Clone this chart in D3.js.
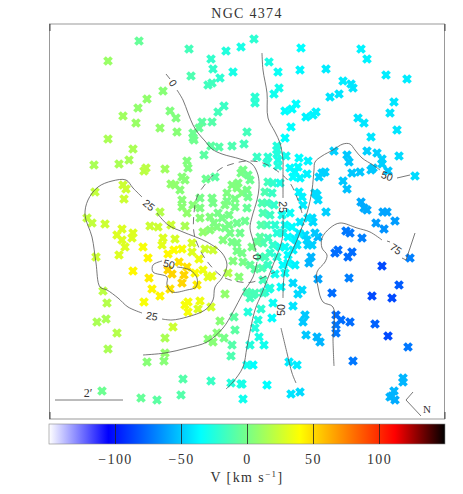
<!DOCTYPE html>
<html>
<head>
<meta charset="utf-8">
<script src="https://cdn.jsdelivr.net/npm/d3@7"></script>
<style>
body { margin: 0; background: #fff; }
svg { display: block; }
text { font-family: "Liberation Serif", serif; fill: #333; }
.clabel { font-family: "Liberation Sans", sans-serif; font-size: 10.5px; fill: #333; }
.axis path { display: none; }
.axis line { stroke: #222; stroke-width: 0.8; }
</style>
</head>
<body>
<svg id="chart" width="463" height="494"></svg>
<script>
// all sky positions are plate offsets from the galaxy centre, 34 units = 1 arcmin
// rows are [x, y, V in km/s]
const north = [[-108,180,-5],[-139,160,10],[-58,172,-15],[-21,170,-25],[-6,174,-28],[-36,162,-20],[-34,152,-20],[-14,149,-28],[-27,143,-22],[-56,145,-12],[-39,136,-16],[-35,138,-16],[-84,130,5],[-100,122,8],[-109,113,8],[-124,105,12],[-111,98,10],[-77,110,3],[-71,103,3],[-87,93,8],[-70,89,5],[-139,82,15],[-114,72,15],[-23,115,-18],[-29,109,-15],[-35,99,-10],[-45,99,-8],[-48,93,-5],[-54,88,-3],[-54,83,-3],[-53,81,-2],[-36,75,-8],[-28,74,-10],[-15,75,-12],[-3,77,-15],[0,89,-15]];
const northEast = [[7,182,-22],[54,173,-35],[22,159,-28],[31,149,-32],[53,151,-37],[79,152,-40],[114,172,-38],[120,162,-38],[139,146,-40],[160,142,-40],[32,133,-30],[27,127,-30],[8,124,-22],[8,118,-22],[49,117,-35],[45,112,-35],[38,110,-35],[59,104,-38],[66,106,-38],[69,109,-38],[96,140,-40],[104,137,-42],[106,133,-42],[92,127,-42],[83,124,-42],[147,119,-42],[143,108,-42],[111,103,-42],[117,98,-42],[150,91,-42],[124,84,-42],[44,94,-35],[38,83,-35],[30,75,-25],[30,71,-25],[30,67,-25],[31,61,-27],[39,65,-30],[52,63,-35],[61,60,-38],[10,64,-18],[21,64,-22],[20,58,-22],[31,55,-25],[87,70,-48],[100,66,-50],[102,59,-50],[120,70,-48],[130,68,-48],[135,62,-48],[135,57,-48],[152,65,-45],[141,50,-50],[124,51,-50],[126,53,-50],[113,49,-50],[105,48,-50],[168,45,-45],[78,49,-48],[75,48,-48],[72,44,-47],[96,40,-50],[100,32,-52]];
const east = [[70,26,-45],[68,28,-45],[71,21,-45],[79,9,-48],[114,19,-58],[117,13,-58],[120,11,-58],[136,9,-60],[140,9,-60],[148,0,-62],[129,-2,-62],[137,-8,-65],[99,-10,-72],[103,-12,-72],[115,-17,-70],[91,-29,-75],[88,-32,-75],[105,-31,-75],[101,-36,-75],[163,-37,-70],[135,-45,-85],[71,-58,-60],[102,-57,-70],[85,-72,-75],[125,-75,-85],[145,-77,-85],[152,-64,-80],[89,-94,-75],[94,-99,-75],[103,-101,-75],[89,-104,-72],[89,-112,-72],[128,-103,-78],[141,-115,-85],[161,-126,-72],[106,-140,-72],[156,-157,-55],[156,-161,-55],[147,-170,-55],[143,-176,-55],[148,-179,-58],[145,-175,-56]];
const coreEast = [[43,53,-35],[51,54,-35],[48,49,-36],[53,43,-37],[60,47,-38],[46,44,-35],[52,29,-38],[55,24,-38],[56,16,-40],[65,3,-45],[66,-1,-45],[61,3,-42],[53,-1,-40],[71,-16,-55],[68,-12,-50],[58,-14,-45],[61,-24,-48],[65,-24,-48],[60,-19,-47],[64,-36,-55],[62,-42,-55],[46,-62,-45],[55,-69,-45],[51,-73,-45],[34,-66,-35],[22,-68,-30],[28,-53,-30],[41,-42,-35],[36,-44,-35],[46,-29,-38],[26,-82,-32],[46,-85,-42],[58,-94,-50],[56,-101,-50],[59,-114,-50],[70,-116,-55],[73,-121,-55],[42,-141,-40],[50,-144,-40],[53,-171,-45],[44,-173,-42],[20,-164,-35],[25,-97,-35],[17,-124,-30],[12,-116,-28],[8,-107,-25],[11,-99,-25],[14,-88,-22],[6,-144,-35],[0,-144,-30],[3,-124,-25],[1,-91,-25],[6,-74,-15],[3,-77,-15],[18,-71,-25],[-5,-163,-28],[-4,-178,-30],[48,-18,-38],[52,-12,-40],[50,-24,-40],[48,-44,-38],[38,-52,-32]];
const coreColumn = [[21,39,-15],[26,38,-20],[33,38,-28],[18,29,-12],[25,28,-18],[20,18,-15],[16,8,-12],[23,6,-17],[20,-4,-15],[35,6,-30],[43,8,-33],[38,-4,-32],[45,-6,-35],[36,-12,-30],[41,-16,-35],[30,-12,-24],[13,-16,-8],[21,-17,-15],[16,-22,-12],[26,-24,-20],[10,-21,-5],[5,-26,0],[33,-26,-27],[23,-32,-20],[13,-36,-10],[41,-34,-35],[3,-44,-5],[15,-47,-12],[21,-44,-18],[16,-59,-15],[23,-67,-25],[16,-72,-18],[8,-72,-14],[27,16,-20],[15,18,-12],[28,-4,-22],[14,-4,-10],[38,-26,-33],[30,-36,-25],[18,-36,-15],[8,-48,-8]];
const coreWest = [[-6,48,0],[-4,51,0],[3,41,-3],[1,46,-2],[-9,38,2],[-15,36,3],[-10,33,3],[-5,28,2],[0,31,0],[1,24,-2],[0,13,-5],[-60,60,3],[-59,53,3],[-43,66,-8],[-65,44,5],[-62,41,5],[-76,37,8],[-72,36,8],[-41,42,-3],[-32,44,-8],[-67,31,5],[-65,21,5],[-65,14,6],[-60,8,8],[-54,16,5],[-47,23,0],[-47,13,2],[-47,3,5],[-35,23,0],[-34,18,0],[-37,4,3],[-29,8,0],[-25,3,0],[-30,-6,3],[-37,-9,5],[-44,-11,8],[-22,-7,0],[-17,-12,0],[-7,-12,-2],[-15,-21,0],[-24,-19,3],[-5,-32,0],[-4,-41,0],[-2,0,-3],[-10,-2,-2],[-12,14,0],[-20,20,0],[-18,6,0],[-10,-22,0],[-20,28,2],[-22,16,2],[-12,22,1],[-33,-2,2],[-18,-4,0],[-10,-30,0],[-14,-40,3]];
const west = [[-153,56,15],[-128,57,15],[-118,61,14],[-103,50,20],[-101,53,20],[-82,52,12],[-124,36,25],[-121,32,25],[-123,22,25],[-152,29,22],[-160,3,22],[-155,-2,22],[-142,-3,25],[-87,9,18],[-97,-5,25],[-89,-6,25],[-76,-4,25],[-62,-5,15],[-125,-8,30],[-130,-14,30],[-114,-12,30],[-115,-17,30],[-125,-19,30],[-122,-26,30],[-128,-34,30],[-104,-26,38],[-84,-17,30],[-85,-24,32],[-72,-18,28],[-55,-22,28],[-55,-31,30],[-151,-36,25],[-99,-37,42],[-79,-33,42],[-73,-29,40],[-65,-28,38],[-42,-28,25],[-34,-29,25],[-48,-38,35],[-68,-41,48],[-60,-46,48],[-79,-49,52],[-75,-53,52],[-114,-50,42],[-63,-54,52],[-65,-62,52],[-98,-57,45],[-44,-49,35],[-52,-52,40],[-35,-55,32],[-39,-56,32],[-19,-52,18],[-8,-56,5],[-50,-64,45],[-77,-68,48],[-95,-68,42],[-87,-75,42],[-144,-70,20],[-22,-73,8],[0,-71,-12]];
const southWest = [[-140,-82,18],[-103,-81,38],[-59,-81,38],[-62,-84,38],[-59,-91,38],[-47,-80,35],[-49,-88,30],[-36,-86,28],[-150,-101,15],[-141,-98,15],[-74,-106,25],[-130,-112,18],[-82,-117,15],[-27,-100,5],[-13,-96,-8],[-12,-109,-8],[-30,-112,5],[-39,-118,5],[-34,-121,5],[-23,-117,0],[-15,-124,-10],[-16,-135,-12],[-139,-128,15],[-82,-132,8],[-83,-140,5],[-100,-141,5],[-64,-158,-10],[-36,-160,-18],[-16,-162,-25],[-6,-163,-28],[-145,-170,-3],[-106,-177,-5],[-90,-179,-8],[-66,-174,-10]];
const stars = [].concat(north, northEast, east, coreEast, coreColumn, coreWest, west, southWest);

// iso-velocity contours, cut where the labels sit
const solidContours = [
  [[-81,147],[-77,142]],
  [[-70,131],[-64,121],[-59,108],[-54,96],[-49,88],[-42,80],[-35,72],[-25,67],[-7,62],[5,57],[11,46],[12,33],[10,21],[5,4],[3,-7],[6,-19],[9,-31]],
  [[10,-41],[6,-56],[-4,-72],[-14,-91],[-24,-107],[-40,-121],[-60,-127],[-82,-132],[-104,-134]],
  [[-90,8],[-79,-4],[-64,-11],[-40,-21],[-25,-32],[-20,-44],[-25,-57],[-32,-66],[-34,-79],[-42,-89],[-60,-96],[-75,-99],[-85,-98]],
  [[-105,-92],[-119,-86],[-129,-77],[-140,-69],[-147,-66],[-151,-42],[-155,-16],[-162,6],[-159,21],[-149,34],[-135,40],[-121,41],[-114,33],[-105,24]],
  [[15,168],[16,151],[20,128],[21,103],[28,89],[33,78],[36,61],[36,51],[36,23]],
  [[36,6],[35,-19],[26,-44],[15,-72],[8,-89],[0,-126],[-4,-146],[-14,-161],[-21,-168]],
  [[163,46],[150,43]],
  [[133,51],[126,56],[115,63],[108,71],[103,77],[96,77],[86,71],[75,65],[68,59],[67,51],[65,31],[60,8],[50,-19],[38,-49],[36,-77]],
  [[34,-107],[40,-132],[45,-152],[49,-162]],
  [[-85,-40],[-94,-44],[-94,-51],[-80,-56],[-80,-64],[-75,-71],[-60,-69],[-51,-66],[-50,-57],[-57,-49],[-70,-46]],
  [[135,-19],[123,-11],[110,-7],[93,-2],[83,-7],[75,-17],[75,-27],[80,-34],[78,-41],[70,-51],[71,-66],[76,-81],[86,-86],[86,-119],[87,-145]],
  [[140,-20],[143,-21]]
];
const dashedContour = [[55,8],[51,21],[43,38],[33,48],[16,58],[0,60],[-15,57],[-27,52],[-40,39],[-50,24],[-53,8],[-53,-12],[-47,-29],[-37,-44],[-24,-56],[-7,-61],[6,-61],[15,-57],[28,-51]];
const hookContour = [[155,-37],[159,-39],[168,-12]];
// text, x, y, rotation
const contourLabels = [["0",-74,138,55],["25",-98,16,40],["50",-78,-43,15],["25",-95,-95,10],["25",36,14,90],["0",10,-36,90],["50",34,-89,-90],["50",140,45,20],["75",149,-28,35]];

const scaleBarEnds = [[-192,-179],[-124,-179]];
const northArrow = [[166,-171],[159,-179],[174,-195]];

const velStops = [-150, -105, -35, 40, 112, 150];
const velColors = ["#ffffff", "#0000ff", "#00ffff", "#ffff00", "#ff0000", "#000000"];
const velTicks = [-100, -50, 0, 50, 100];

const xScale = d3.scaleLinear().domain([-197.5, 197.5]).range([49.5, 444.5]);
const yScale = d3.scaleLinear().domain([-198, 197]).range([419, 24]);
const barScale = d3.scaleLinear().domain([-150, 150]).range([49, 445]);
const colorScale = d3.scaleLinear().domain(velStops).range(velColors);

const svg = d3.select("#chart");

svg.append("text")
  .attr("x", 247).attr("y", 18)
  .attr("text-anchor", "middle")
  .style("font-size", "14px").style("letter-spacing", "1.3px")
  .text("NGC 4374");

// stars
const cross = d3.symbol().type(d3.symbolTimes).size(34);
svg.append("g").selectAll("path")
  .data(stars)
  .join("path")
  .attr("d", cross)
  .attr("transform", d => "translate(" + xScale(d[0]) + "," + yScale(d[1]) + ")")
  .attr("fill", "none")
  .attr("stroke", d => colorScale(d[2]))
  .attr("stroke-width", 3.8);

// contours
const line = d3.line().x(d => xScale(d[0])).y(d => yScale(d[1])).curve(d3.curveCatmullRom);
const contourG = svg.append("g").attr("fill", "none").attr("stroke", "#555").attr("stroke-width", 0.8);
contourG.selectAll(".solid")
  .data(solidContours.concat([scaleBarEnds]))
  .join("path")
  .attr("class", "solid")
  .attr("d", line);
contourG.append("path").attr("d", line(dashedContour)).attr("stroke-dasharray", "7,5");
contourG.append("path").attr("d", d3.line().x(d => xScale(d[0])).y(d => yScale(d[1]))(hookContour));
contourG.append("path").attr("d", d3.line().x(d => xScale(d[0])).y(d => yScale(d[1]))(northArrow));

svg.append("g").selectAll("text")
  .data(contourLabels)
  .join("text")
  .attr("class", "clabel")
  .attr("text-anchor", "middle")
  .attr("dy", "0.36em")
  .attr("transform", d => "translate(" + xScale(d[1]) + "," + yScale(d[2]) + ") rotate(" + d[3] + ")")
  .text(d => d[0]);

svg.append("text")
  .attr("x", xScale(-159)).attr("y", yScale(-176))
  .attr("text-anchor", "middle")
  .style("font-size", "12px")
  .text("2\u2032");
svg.append("text")
  .attr("x", xScale(180)).attr("y", yScale(-192))
  .attr("text-anchor", "middle")
  .style("font-size", "11px")
  .text("N");

// frame
svg.append("rect")
  .attr("x", 49.5).attr("y", 24).attr("width", 395).attr("height", 395)
  .attr("fill", "none").attr("stroke", "#999").attr("stroke-width", 1);
svg.append("g").attr("class", "axis").attr("transform", "translate(0,24)")
  .call(d3.axisTop(xScale).tickValues(xScale.domain()).tickSize(-7).tickFormat(""));
svg.append("g").attr("class", "axis").attr("transform", "translate(0,419)")
  .call(d3.axisBottom(xScale).tickValues(xScale.domain()).tickSize(-7).tickFormat(""));

// colour bar
const grad = svg.append("defs").append("linearGradient").attr("id", "velGrad");
grad.selectAll("stop")
  .data(velStops)
  .join("stop")
  .attr("offset", d => (d + 150) / 300)
  .attr("stop-color", (d, i) => velColors[i]);
svg.append("rect")
  .attr("x", barScale(-150)).attr("y", 424).attr("width", barScale(150) - barScale(-150)).attr("height", 20)
  .attr("fill", "url(#velGrad)").attr("stroke", "#888").attr("stroke-width", 0.6);

const barAxis = svg.append("g").attr("class", "axis").attr("transform", "translate(0,444)")
  .call(d3.axisBottom(barScale).tickValues(velTicks).tickSize(-20).tickPadding(10).tickFormat(d => (d < 0 ? "\u2212" + (-d) : d)));
barAxis.selectAll("line").attr("stroke", "#333").attr("stroke-width", 0.7);
barAxis.selectAll("text")
  .style("font-family", '"Liberation Serif", serif')
  .style("font-size", "14px").style("letter-spacing", "1.4px").attr("fill", "#333");

const vLabel = svg.append("text")
  .attr("x", 247).attr("y", 482)
  .attr("text-anchor", "middle")
  .style("font-size", "14px").style("letter-spacing", "1.4px");
vLabel.append("tspan").text("V  [km  s");
vLabel.append("tspan").attr("dy", -5).style("font-size", "9px").text("\u22121");
vLabel.append("tspan").attr("dy", 5).text("]");
</script>
</body>
</html>
